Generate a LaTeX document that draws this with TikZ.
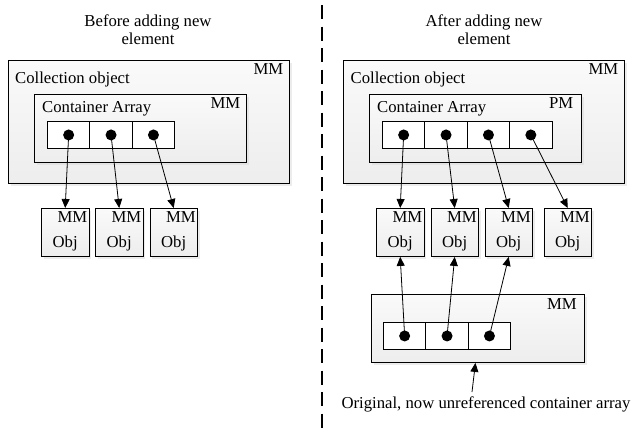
\documentclass[tikz,border=0pt]{standalone}
\usepackage{fontspec}
\setmainfont{Liberation Serif}
\usetikzlibrary{arrows.meta,shadows}
\begin{document}
\begin{tikzpicture}[x=1pt,y=-1pt,
  font=\fontsize{16.7}{19}\selectfont,
  box/.style={draw=black, line width=0.9pt, top color=black!2, bottom color=black!7,
    drop shadow={shadow xshift=2.5pt, shadow yshift=-2.5pt, fill=black!15, draw=none},
    anchor=north west, inner sep=0pt},
  cell/.style={draw=black, line width=0.9pt, fill=white, minimum width=42.4pt,
    minimum height=27pt, anchor=north west, inner sep=0pt},
  dot/.style={circle, fill=black, inner sep=0pt, minimum size=11pt},
  ptr/.style={line width=0.8pt, -{Triangle[length=9pt,width=8pt]}},
  lbl/.style={inner sep=0pt, anchor=base west},
  tag/.style={inner sep=0pt, anchor=base east},
  txt/.style={inner sep=0pt, anchor=base},
]
\useasboundingbox (0,0) rectangle (634,429);

% divider
\coordinate (divTop) at (322,5);
\coordinate (divBot) at (322,429);
\draw[line width=2pt, dash pattern=on 14pt off 7.5pt] (divTop) -- (divBot);

% titles
\node[txt] (tL1) at (148,26) {Before adding new};
\node[txt] (tL2) at (148,44) {element};
\node[txt] (tR1) at (484,26) {After adding new};
\node[txt] (tR2) at (484,44) {element};

% ---------- left side ----------
\node[box, minimum width=281pt, minimum height=123pt] (collL) at (8,60) {};
\node[lbl] (collLt) at ([shift={(7,23)}]collL.north west) {Collection object};
\node[tag] (collLm) at ([shift={(-6.5,14)}]collL.north east) {MM};

\node[box, minimum width=212pt, minimum height=68pt] (contL) at (34,94) {};
\node[lbl] (contLt) at ([shift={(8,18)}]contL.north west) {Container Array};
\node[tag] (contLm) at ([shift={(-6.5,14)}]contL.north east) {MM};

\node[cell] (cL1) at (47,121) {};
\node[cell] (cL2) at (89.4,121) {};
\node[cell] (cL3) at (131.8,121) {};
\node[dot] (dL1) at (cL1.center) {};
\node[dot] (dL2) at (cL2.center) {};
\node[dot] (dL3) at (cL3.center) {};

\foreach \i/\x in {1/41,2/95,3/149.5}{
  \node[box, minimum width=47.5pt, minimum height=48pt] (oL\i) at (\x,208) {};
  \node[tag] (oL\i m) at ([shift={(-2,14)}]oL\i.north east) {MM};
  \node[txt] (oL\i t) at ([shift={(0,39)}]oL\i.north) {Obj};
}
\draw[ptr] (dL1.center) -- (oL1.north);
\draw[ptr] (dL2.center) -- (oL2.north);
\draw[ptr] (dL3.center) -- (oL3.north);

% ---------- right side ----------
\node[box, minimum width=281pt, minimum height=123pt] (collR) at (343,60) {};
\node[lbl] (collRt) at ([shift={(7.5,23)}]collR.north west) {Collection object};
\node[tag] (collRm) at ([shift={(-6.5,14)}]collR.north east) {MM};

\node[box, minimum width=212pt, minimum height=68pt] (contR) at (369,94) {};
\node[lbl] (contRt) at ([shift={(8,18)}]contR.north west) {Container Array};
\node[tag] (contRm) at ([shift={(-8.5,14)}]contR.north east) {PM};

\node[cell] (cR1) at (382,121) {};
\node[cell] (cR2) at (424.4,121) {};
\node[cell] (cR3) at (466.8,121) {};
\node[cell] (cR4) at (509.2,121) {};
\node[dot] (dR1) at (cR1.center) {};
\node[dot] (dR2) at (cR2.center) {};
\node[dot] (dR3) at (cR3.center) {};
\node[dot] (dR4) at (cR4.center) {};

\foreach \i/\x in {1/376,2/430.5,3/484.5,4/543.5}{
  \node[box, minimum width=47.5pt, minimum height=48pt] (oR\i) at (\x,208) {};
  \node[tag] (oR\i m) at ([shift={(-2,14)}]oR\i.north east) {MM};
  \node[txt] (oR\i t) at ([shift={(0,39)}]oR\i.north) {Obj};
}
\draw[ptr] (dR1.center) -- (oR1.north);
\draw[ptr] (dR2.center) -- (oR2.north);
\draw[ptr] (dR3.center) -- (oR3.north);
\draw[ptr] (dR4.center) -- (oR4.north);

% old container array
\node[box, minimum width=213pt, minimum height=68pt] (old) at (371,294) {};
\node[tag] (oldm) at ([shift={(-8,15)}]old.north east) {MM};
\node[cell] (bC1) at (383,322) {};
\node[cell] (bC2) at (425.4,322) {};
\node[cell] (bC3) at (467.8,322) {};
\node[dot] (bD1) at (bC1.center) {};
\node[dot] (bD2) at (bC2.center) {};
\node[dot] (bD3) at (bC3.center) {};
\draw[ptr] (bD1.center) -- (oR1.south);
\draw[ptr] (bD2.center) -- (oR2.south);
\draw[ptr] (bD3.center) -- (oR3.south);

\node[txt] (cap) at (486,408) {Original, now unreferenced container array};
\coordinate (capTail) at (472,392);
\draw[ptr] (capTail) -- ([xshift=-2.5pt]old.south);
\end{tikzpicture}
\end{document}
